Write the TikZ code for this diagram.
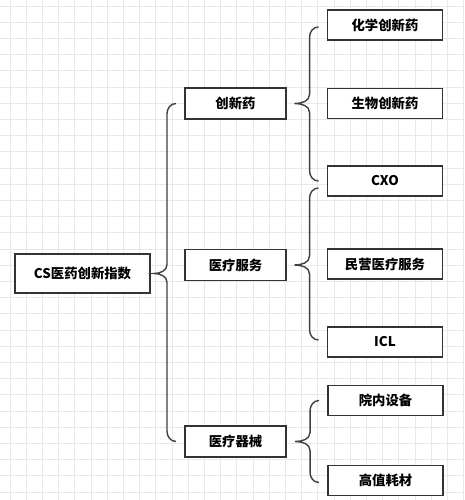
\documentclass[tikz,border=0pt]{standalone}
\usepackage{fontspec}
\newfontfamily\cjk{Noto Sans CJK SC}
\usepackage{tikz}
\usetikzlibrary{calc}
\usepackage{xcolor}

\begin{document}
\begin{tikzpicture}[x=0.02cm,y=-0.02cm,
  box/.style={draw=black!80,line width=1.1pt,fill=white,font=\cjk\bfseries\fontsize{7.6}{9}\selectfont},
  rootbox/.style={box,minimum width=2.7cm,minimum height=0.78cm},
  midbox/.style={box,minimum width=2.02cm,minimum height=0.62cm},
  leafbox/.style={box,minimum width=2.3cm,minimum height=0.6cm},
  brace/.style={draw=black!75,line width=0.8pt},
  gridline/.style={draw=black!9,line width=0.5pt}]
\useasboundingbox (0,0) rectangle (464,500);
\fill[white] (0,0) rectangle (464,500);

% background grid
\foreach \i in {0,...,28} \draw[gridline] (10+\i*16.2,0) -- (10+\i*16.2,500);
\foreach \j in {0,...,30} \draw[gridline] (0,6+\j*16.2) -- (464,6+\j*16.2);

\node[rootbox] (csIdx) at (82.5,273.5) {CS医药创新指数};

\node[midbox] (drug) at (235.5,103.5) {创新药};
\node[midbox] (service) at (235.5,265) {医疗服务};
\node[midbox] (device) at (235.5,441.5) {医疗器械};

\node[leafbox] (chem) at (385,25) {化学创新药};
\node[leafbox] (bio) at (385,103.5) {生物创新药};
\node[leafbox] (cxo) at (385,181) {CXO};
\node[leafbox] (private) at (385,264) {民营医疗服务};
\node[leafbox] (icl) at (385,342) {ICL};
\node[leafbox] (equip) at (385.5,400.5) {院内设备};
\node[leafbox] (consum) at (385.5,480.5) {高值耗材};

% brace from csIdx
\draw[brace] ($(drug.west)+(-8,0)$) to[out=180,in=90] ($(drug.west)+(-17,10)$)
  -- ($(drug.west |- csIdx.east)+(-17,-9)$) to[out=270,in=0] ($(drug.west |- csIdx.east)+(-30,0)$)
  to[out=0,in=90] ($(drug.west |- csIdx.east)+(-17,9)$)
  -- ($(device.west)+(-17,-10)$) to[out=270,in=180] ($(device.west)+(-8,0)$);

% brace from drug
\draw[brace] ($(chem.west)+(-8,2)$) to[out=180,in=90] ($(chem.west)+(-17,12)$)
  -- ($(chem.west |- drug.east)+(-17,-9)$) to[out=270,in=0] ($(chem.west |- drug.east)+(-32,0)$)
  to[out=0,in=90] ($(chem.west |- drug.east)+(-17,9)$)
  -- ($(cxo.west)+(-17,-10)$) to[out=270,in=180] ($(cxo.west)+(-8,0)$);

% brace from service
\draw[brace] ($(cxo.west)+(-8,7)$) to[out=180,in=90] ($(cxo.west)+(-17,17)$)
  -- ($(cxo.west |- service.east)+(-17,-9)$) to[out=270,in=0] ($(cxo.west |- service.east)+(-32,0)$)
  to[out=0,in=90] ($(cxo.west |- service.east)+(-17,9)$)
  -- ($(icl.west)+(-17,-12)$) to[out=270,in=180] ($(icl.west)+(-8,-2)$);

% brace from device
\draw[brace] ($(equip.west)+(-8,0)$) to[out=180,in=90] ($(equip.west)+(-17,10)$)
  -- ($(equip.west |- device.east)+(-17,-9)$) to[out=270,in=0] ($(equip.west |- device.east)+(-32,0)$)
  to[out=0,in=90] ($(equip.west |- device.east)+(-17,9)$)
  -- ($(consum.west)+(-17,-8)$) to[out=270,in=180] ($(consum.west)+(-8,2)$);
\end{tikzpicture}
\end{document}
